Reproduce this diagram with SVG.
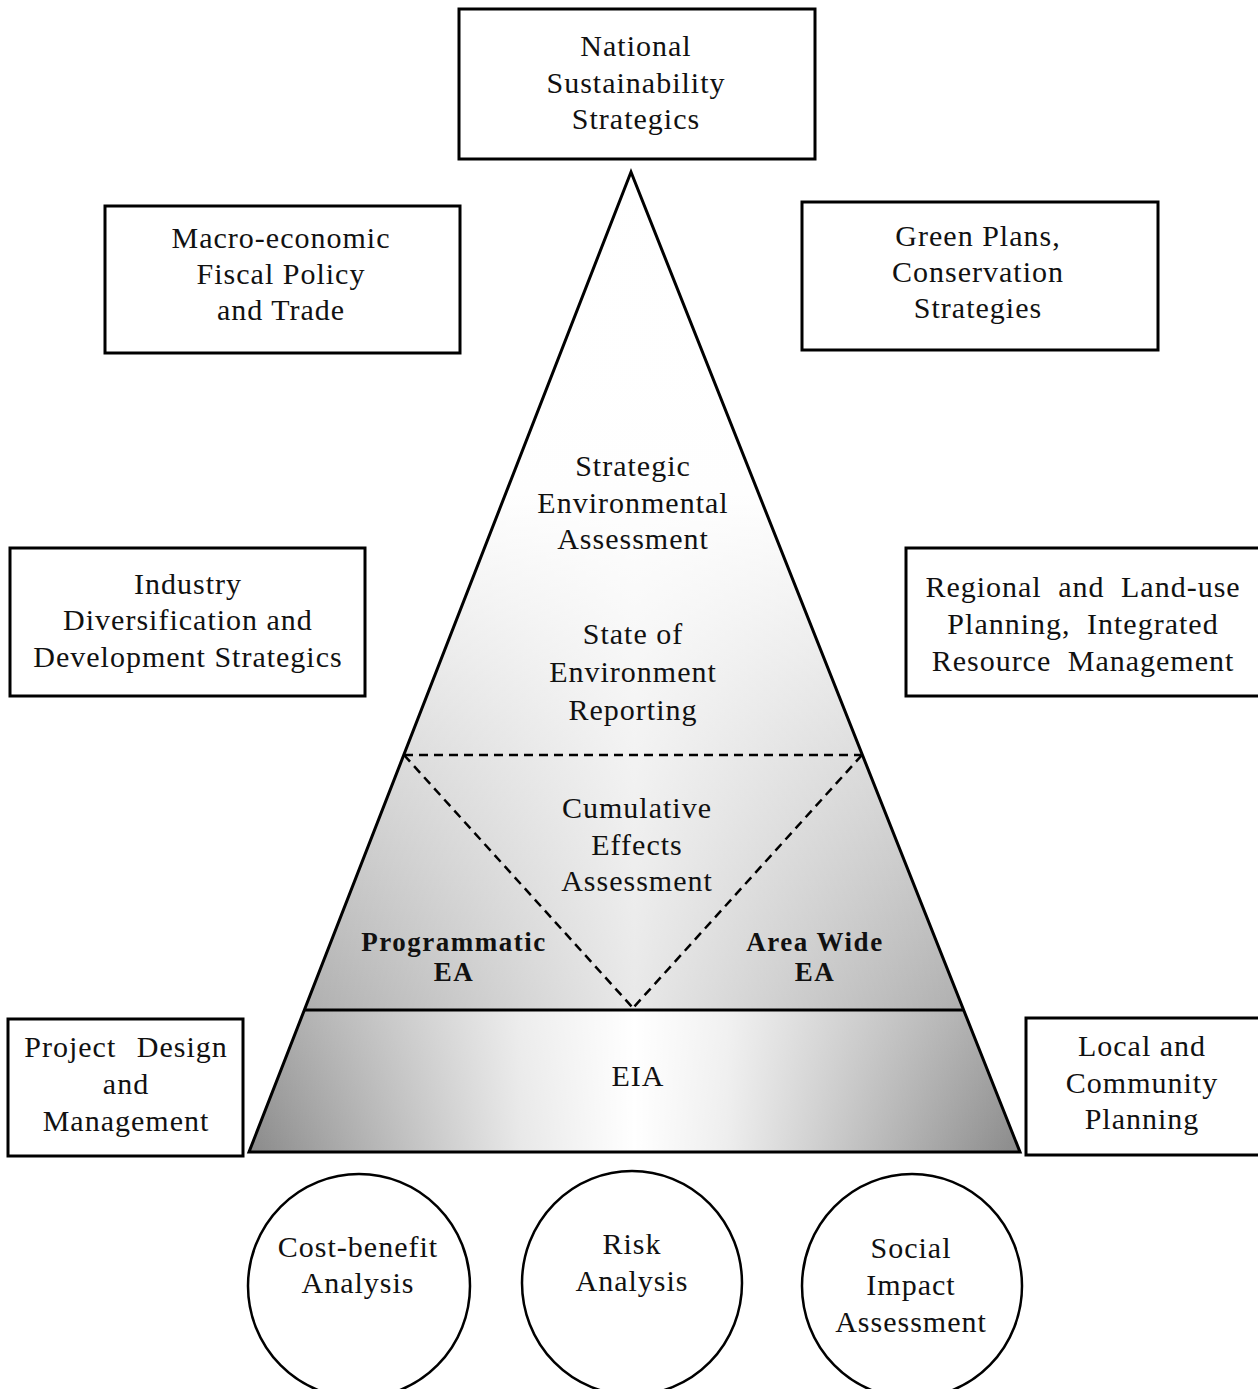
<svg xmlns="http://www.w3.org/2000/svg" width="1258" height="1389" viewBox="0 0 1258 1389">
<defs>
<linearGradient id="vg" gradientUnits="userSpaceOnUse" x1="0" y1="172" x2="0" y2="1152">
<stop offset="0" stop-color="#ffffff"/>
<stop offset="0.33" stop-color="#fdfdfd"/>
<stop offset="0.6" stop-color="#cdcdcd"/>
<stop offset="0.85" stop-color="#a6a6a6"/>
<stop offset="1" stop-color="#8a8a8a"/>
</linearGradient>
<linearGradient id="hg" gradientUnits="userSpaceOnUse" x1="249" y1="0" x2="1020" y2="0">
<stop offset="0" stop-color="#fff" stop-opacity="0"/>
<stop offset="0.3" stop-color="#fff" stop-opacity="0.45"/>
<stop offset="0.5" stop-color="#fff" stop-opacity="0.75"/>
<stop offset="0.7" stop-color="#fff" stop-opacity="0.45"/>
<stop offset="1" stop-color="#fff" stop-opacity="0"/>
</linearGradient>
<linearGradient id="eg" gradientUnits="userSpaceOnUse" x1="249" y1="0" x2="1020" y2="0">
<stop offset="0" stop-color="#fff" stop-opacity="0"/>
<stop offset="0.35" stop-color="#fff" stop-opacity="0.8"/>
<stop offset="0.5" stop-color="#fff" stop-opacity="1"/>
<stop offset="0.62" stop-color="#fff" stop-opacity="0.85"/>
<stop offset="1" stop-color="#fff" stop-opacity="0"/>
</linearGradient>
<style>
.box{fill:#fff;stroke:#000;stroke-width:3}
.t{font-family:"Liberation Serif","Times New Roman",serif;font-size:30px;letter-spacing:1px;fill:#111;text-anchor:middle}
.b{font-weight:bold;font-size:27px;letter-spacing:1.5px}
.dash{fill:none;stroke:#000;stroke-width:2.5;stroke-dasharray:9 6}
.ell{fill:#fff;stroke:#000;stroke-width:2.5}
</style>
</defs>
<rect width="1258" height="1389" fill="#fff"/>

<g id="pyramid">
<polygon points="631,172 1020,1152 249,1152" fill="url(#vg)"/>
<polygon points="631,172 963,1010 305,1010" fill="url(#hg)"/>
<polygon points="305,1010 963,1010 1020,1152 249,1152" fill="url(#eg)"/>
<polygon points="631,172 1020,1152 249,1152" fill="none" stroke="#000" stroke-width="3" stroke-linejoin="miter"/>
<line x1="305" y1="1010" x2="963" y2="1010" stroke="#000" stroke-width="3"/>
</g>

<g id="connectors">
<line class="dash" x1="404" y1="755" x2="862" y2="755"/>
<line class="dash" x1="404" y1="755" x2="633" y2="1008"/>
<line class="dash" x1="862" y1="755" x2="633" y2="1008"/>
</g>

<g id="sea"><text class="t"><tspan x="633" y="476">Strategic</tspan><tspan x="633" y="513">Environmental</tspan><tspan x="633" y="549">Assessment</tspan></text></g>
<g id="soe"><text class="t"><tspan x="633" y="644">State of</tspan><tspan x="633" y="682">Environment</tspan><tspan x="633" y="720">Reporting</tspan></text></g>
<g id="cea"><text class="t"><tspan x="637" y="818">Cumulative</tspan><tspan x="637" y="855">Effects</tspan><tspan x="637" y="891">Assessment</tspan></text></g>
<g id="prog"><text class="t b"><tspan x="454" y="951">Programmatic</tspan><tspan x="454" y="981">EA</tspan></text></g>
<g id="area"><text class="t b"><tspan x="815" y="951">Area Wide</tspan><tspan x="815" y="981">EA</tspan></text></g>
<g id="eia"><text class="t"><tspan x="638" y="1086">EIA</tspan></text></g>

<g id="national"><rect class="box" x="459" y="9" width="356" height="150"/>
<text class="t"><tspan x="636" y="56">National</tspan><tspan x="636" y="93">Sustainability</tspan><tspan x="636" y="129">Strategics</tspan></text></g>

<g id="macro"><rect class="box" x="105" y="206" width="355" height="147"/>
<text class="t"><tspan x="281" y="248">Macro-economic</tspan><tspan x="281" y="284">Fiscal Policy</tspan><tspan x="281" y="320">and Trade</tspan></text></g>

<g id="green"><rect class="box" x="802" y="202" width="356" height="148"/>
<text class="t"><tspan x="978" y="246">Green Plans,</tspan><tspan x="978" y="282">Conservation</tspan><tspan x="978" y="318">Strategies</tspan></text></g>

<g id="industry"><rect class="box" x="10" y="548" width="355" height="148"/>
<text class="t"><tspan x="188" y="594">Industry</tspan><tspan x="188" y="630">Diversification and</tspan><tspan x="188" y="667">Development Strategics</tspan></text></g>

<g id="regional"><rect class="box" x="906" y="548" width="356" height="148"/>
<text class="t" style="word-spacing:8px"><tspan x="1083" y="597">Regional and Land-use</tspan><tspan x="1083" y="634">Planning, Integrated</tspan><tspan x="1083" y="671">Resource Management</tspan></text></g>

<g id="project"><rect class="box" x="8" y="1019" width="235" height="137"/>
<text class="t"><tspan x="126" y="1057" style="word-spacing:12px">Project Design</tspan><tspan x="126" y="1094">and</tspan><tspan x="126" y="1131">Management</tspan></text></g>

<g id="local"><rect class="box" x="1026" y="1018" width="236" height="137"/>
<text class="t"><tspan x="1142" y="1056">Local and</tspan><tspan x="1142" y="1093">Community</tspan><tspan x="1142" y="1129">Planning</tspan></text></g>

<g id="costbenefit"><ellipse class="ell" cx="359" cy="1286" rx="111" ry="112"/>
<text class="t"><tspan x="358" y="1257">Cost-benefit</tspan><tspan x="358" y="1293">Analysis</tspan></text></g>

<g id="risk"><ellipse class="ell" cx="632" cy="1283" rx="110" ry="112"/>
<text class="t"><tspan x="632" y="1254">Risk</tspan><tspan x="632" y="1291">Analysis</tspan></text></g>

<g id="social"><ellipse class="ell" cx="912" cy="1286" rx="110" ry="112"/>
<text class="t"><tspan x="911" y="1258">Social</tspan><tspan x="911" y="1295">Impact</tspan><tspan x="911" y="1332">Assessment</tspan></text></g>
</svg>
